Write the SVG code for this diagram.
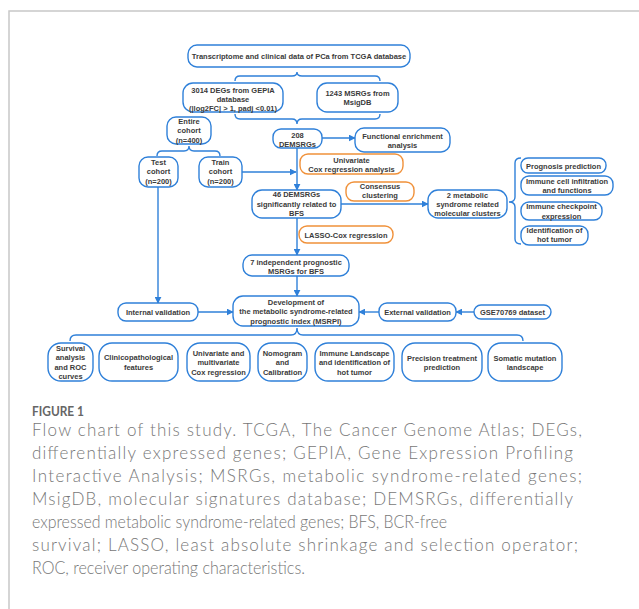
<svg xmlns="http://www.w3.org/2000/svg" width="639" height="609" viewBox="0 0 639 609">
<style>
.n{fill:#fff;stroke:#2f80d9;stroke-width:1.4}
.o{fill:#fff;stroke:#f0913a;stroke-width:1.4}
.t{font-family:"Liberation Sans",Arial,sans-serif;font-size:7.5px;font-weight:bold;fill:#3a3a3a;text-anchor:middle}
.c{fill:none;stroke:#2f80d9;stroke-width:1.4}
.cap{font-family:Lato,"Open Sans","Liberation Sans",sans-serif;font-size:17px;font-weight:300;fill:#777}
</style>
<defs>
<marker id="ah" viewBox="0 0 10 10" refX="9" refY="5" markerWidth="7" markerHeight="7" markerUnits="userSpaceOnUse" orient="auto">
<path d="M0,0 L10,5 L0,10 z" fill="#2f80d9"/>
</marker>
</defs>
<rect width="639" height="609" fill="#fff"/>
<path d="M9,609 L9,11 L639,11" fill="none" stroke="#c8c8c8" stroke-width="1.5"/>

<g id="connectors">
<path class="c" d="M235,81 Q235,76 240,76 L292,76 Q297,76 297,72 Q297,76 302,76 L375,76 Q380,76 380,81"/>
<path class="c" d="M235,114 Q235,119 240,119 L292,119 Q297,119 297,124 Q297,119 302,119 L375,119 Q380,119 380,114"/>
<path class="c" d="M157,156 Q157,151 162,151 L184,151 Q189,151 189,146 Q189,151 194,151 L215,151 Q220,151 220,156"/>
<path class="c" d="M521,158 Q515,158 515,163 L515,197 Q515,202 509,202 Q515,202 515,207 L515,239 Q515,244 521,244"/>
<path class="c" d="M70,341 Q70,335 76,335 L291,335 Q297,335 297,328 Q297,335 303,335 L517,335 Q523,335 523,341"/>
<path class="c" d="M322,138 L355,138" marker-end="url(#ah)"/>
<path class="c" d="M242,172 L296,172" marker-end="url(#ah)"/>
<path class="c" d="M297,148 L297,190" marker-end="url(#ah)"/>
<path class="c" d="M341,204 L428,204" marker-end="url(#ah)"/>
<path class="c" d="M297,218 L297,255" marker-end="url(#ah)"/>
<path class="c" d="M297,276 L297,296" marker-end="url(#ah)"/>
<path class="c" d="M158,187 L158,303" marker-end="url(#ah)"/>
<path class="c" d="M198,312 L233,312" marker-end="url(#ah)"/>
<path class="c" d="M379,312 L359,312" marker-end="url(#ah)"/>
<path class="c" d="M474,312 L456,312" marker-end="url(#ah)"/>
</g>

<g id="n1"><rect class="n" x="188" y="45" width="222" height="22" rx="9"/><text class="t" x="299" y="59">Transcriptome and clinical data of PCa from TCGA database</text></g>
<g id="n2"><rect class="n" x="183" y="83" width="100" height="29" rx="10"/><text class="t" x="233" y="92.5">3014 DEGs from GEPIA</text><text class="t" x="233" y="101.5">database</text><text class="t" x="233" y="110.5">(|log2FC| &gt; 1, padj &lt;0.01)</text></g>
<g id="n3"><rect class="n" x="317" y="83" width="81" height="29" rx="10"/><text class="t" x="357.5" y="96">1243 MSRGs from</text><text class="t" x="357.5" y="105">MsigDB</text></g>
<g id="n4"><rect class="n" x="273" y="129" width="49" height="19" rx="8"/><text class="t" x="297.5" y="137.5">208</text><text class="t" x="297.5" y="147">DEMSRGs</text></g>
<g id="n5"><rect class="n" x="355" y="128" width="95" height="24" rx="9"/><text class="t" x="402.5" y="138.5">Functional enrichment</text><text class="t" x="402.5" y="147.5">analysis</text></g>
<g id="n6"><rect class="n" x="167" y="117" width="44" height="27" rx="9"/><text class="t" x="189" y="124">Entire</text><text class="t" x="189" y="133">cohort</text><text class="t" x="189" y="142.5">(n=400)</text></g>
<g id="n7"><rect class="n" x="139" y="157" width="39" height="30" rx="9"/><text class="t" x="158.5" y="165">Test</text><text class="t" x="158.5" y="174">cohort</text><text class="t" x="158.5" y="183.5">(n=200)</text></g>
<g id="n8"><rect class="n" x="199" y="157" width="43" height="30" rx="9"/><text class="t" x="220.5" y="165">Train</text><text class="t" x="220.5" y="174">cohort</text><text class="t" x="220.5" y="183.5">(n=200)</text></g>
<g id="n9"><rect class="o" x="300" y="154" width="103" height="20" rx="8"/><text class="t" x="351.5" y="162.5">Univariate</text><text class="t" x="351.5" y="172">Cox regression analysis</text></g>
<g id="n10"><rect class="n" x="252" y="190" width="89" height="28" rx="10"/><text class="t" x="296.5" y="197">46 DEMSRGs</text><text class="t" x="296.5" y="206.5">significantly related to</text><text class="t" x="296.5" y="216">BFS</text></g>
<g id="n11"><rect class="o" x="346" y="182" width="68" height="19" rx="8"/><text class="t" x="380" y="189">Consensus</text><text class="t" x="380" y="198">clustering</text></g>
<g id="n12"><rect class="n" x="428" y="190" width="79" height="28" rx="10"/><text class="t" x="467.5" y="197.5">2 metabolic</text><text class="t" x="467.5" y="207">syndrome related</text><text class="t" x="467.5" y="216">molecular clusters</text></g>
<g id="n13"><rect class="n" x="521" y="158" width="85" height="15" rx="7"/><text class="t" x="563.5" y="168.5">Prognosis prediction</text></g>
<g id="n14"><rect class="n" x="521" y="176" width="92" height="19" rx="8"/><text class="t" x="567" y="183.5">Immune cell infiltration</text><text class="t" x="567" y="192.5">and functions</text></g>
<g id="n15"><rect class="n" x="521" y="202" width="81" height="18" rx="8"/><text class="t" x="561.5" y="209">Immune checkpoint</text><text class="t" x="561.5" y="218.5">expression</text></g>
<g id="n16"><rect class="n" x="521" y="226" width="67" height="19" rx="8"/><text class="t" x="554.5" y="233">Identification of</text><text class="t" x="554.5" y="242">hot tumor</text></g>
<g id="n17"><rect class="o" x="299" y="226" width="94" height="17" rx="8"/><text class="t" x="346" y="237.5">LASSO-Cox regression</text></g>
<g id="n18"><rect class="n" x="243" y="255" width="106" height="21" rx="9"/><text class="t" x="296" y="265">7 independent prognostic</text><text class="t" x="296" y="274">MSRGs for BFS</text></g>
<g id="n19"><rect class="n" x="233" y="296" width="126" height="30" rx="10"/><text class="t" x="296" y="305">Development of</text><text class="t" x="296" y="314">the metabolic syndrome-related</text><text class="t" x="296" y="323.5">prognostic index (MSRPI)</text></g>
<g id="n20"><rect class="n" x="118" y="303" width="80" height="18" rx="8"/><text class="t" x="158" y="314.5">Internal validation</text></g>
<g id="n21"><rect class="n" x="379" y="303" width="77" height="18" rx="8"/><text class="t" x="417.5" y="314.5">External validation</text></g>
<g id="n22"><rect class="n" x="474" y="305" width="77" height="14" rx="7"/><text class="t" x="512.5" y="314.5">GSE70769 dataset</text></g>
<g id="n23"><rect class="n" x="48" y="343" width="45" height="38" rx="13"/><text class="t" x="70.5" y="350.5">Survival</text><text class="t" x="70.5" y="360">analysis</text><text class="t" x="70.5" y="369.5">and ROC</text><text class="t" x="70.5" y="379">curves</text></g>
<g id="n24"><rect class="n" x="99" y="343" width="79" height="38" rx="13"/><text class="t" x="138.5" y="360">Clinicopathological</text><text class="t" x="138.5" y="369.5">features</text></g>
<g id="n25"><rect class="n" x="187" y="343" width="63" height="38" rx="13"/><text class="t" x="218.5" y="355.5">Univariate and</text><text class="t" x="218.5" y="365">multivariate</text><text class="t" x="218.5" y="374.5">Cox regression</text></g>
<g id="n26"><rect class="n" x="258" y="343" width="49" height="38" rx="13"/><text class="t" x="282.5" y="355.5">Nomogram</text><text class="t" x="282.5" y="365">and</text><text class="t" x="282.5" y="374.5">Calibration</text></g>
<g id="n27"><rect class="n" x="315" y="343" width="79" height="38" rx="13"/><text class="t" x="354.5" y="355.5">Immune Landscape</text><text class="t" x="354.5" y="365">and identification of</text><text class="t" x="354.5" y="374.5">hot tumor</text></g>
<g id="n28"><rect class="n" x="402" y="343" width="80" height="38" rx="13"/><text class="t" x="442" y="361">Precision treatment</text><text class="t" x="442" y="370">prediction</text></g>
<g id="n29"><rect class="n" x="488" y="343" width="74" height="38" rx="13"/><text class="t" x="525" y="361">Somatic mutation</text><text class="t" x="525" y="370">landscape</text></g>

<g id="caption">
<text x="32" y="416" font-family="Lato,'Open Sans','Liberation Sans',sans-serif" font-size="12.5" font-weight="bold" fill="#666" textLength="52" lengthAdjust="spacingAndGlyphs">FIGURE 1</text>
<text class="cap" x="32" y="436" textLength="550" lengthAdjust="spacing">Flow chart of this study. TCGA, The Cancer Genome Atlas; DEGs,</text>
<text class="cap" x="32" y="459" textLength="541" lengthAdjust="spacing">differentially expressed genes; GEPIA, Gene Expression Profiling</text>
<text class="cap" x="32" y="482" textLength="550" lengthAdjust="spacing">Interactive Analysis; MSRGs, metabolic syndrome-related genes;</text>
<text class="cap" x="32" y="505" textLength="541" lengthAdjust="spacing">MsigDB, molecular signatures database; DEMSRGs, differentially</text>
<text class="cap" x="32" y="528" textLength="415" lengthAdjust="spacingAndGlyphs">expressed metabolic syndrome-related genes; BFS, BCR-free</text>
<text class="cap" x="32" y="551" textLength="546" lengthAdjust="spacing">survival; LASSO, least absolute shrinkage and selection operator;</text>
<text class="cap" x="32" y="574" textLength="273" lengthAdjust="spacingAndGlyphs">ROC, receiver operating characteristics.</text>
</g>
</svg>
